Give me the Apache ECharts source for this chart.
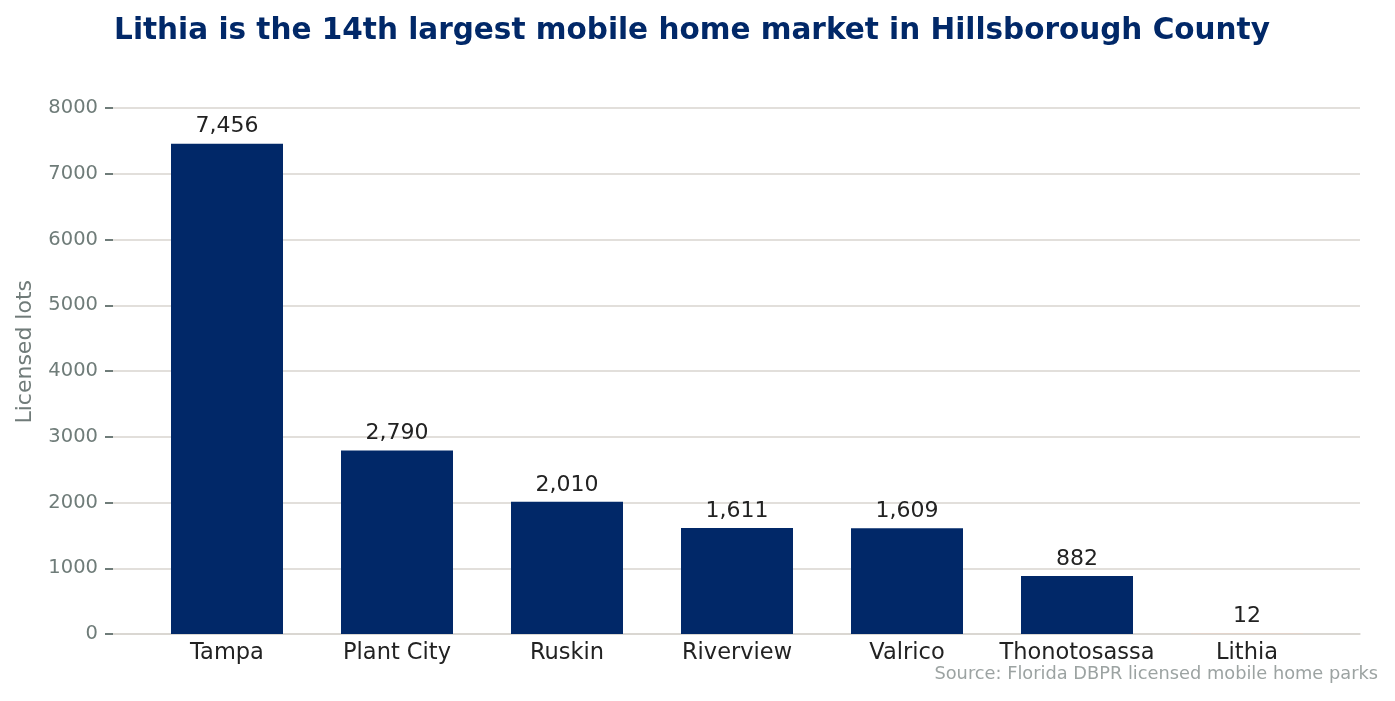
<!DOCTYPE html>
<html>
<head>
<meta charset="utf-8">
<script src="https://cdn.jsdelivr.net/npm/echarts@6/dist/echarts.min.js"></script>
<style>
  html, body { margin: 0; padding: 0; background: #fff; }
  #chart { width: 1395px; height: 701px; }
</style>
</head>
<body>
<div id="chart"></div>
<script>
// data
const cities = ['Tampa', 'Plant City', 'Ruskin', 'Riverview', 'Valrico', 'Thonotosassa', 'Lithia']
const lots = [7456, 2790, 2010, 1611, 1609, 882, 12]
const highlight = 'Lithia'

const NAVY = '#012868'
const FONT = 'DejaVu Sans'

const chart = echarts.init(document.getElementById('chart'))

const barData = lots.map((v, i) => ({
  value: v,
  itemStyle: { color: cities[i] === highlight ? '#e6d3c8' : NAVY }
}))

chart.setOption({
  animation: false,
  textStyle: { fontFamily: FONT },
  title: {
    text: 'Lithia is the 14th largest mobile home market in Hillsborough County',
    left: 687,
    textAlign: 'center',
    top: 11,
    textStyle: { color: NAVY, fontSize: 29.5, fontWeight: 'bold', fontFamily: FONT }
  },
  graphic: [
    {
      type: 'text',
      left: 14, top: 280,
      rotation: Math.PI / 2,
      style: { text: 'Licensed lots', fill: '#707b79', fontSize: 22, fontFamily: FONT }
    },
    {
      type: 'text',
      right: 17, top: 665,
      style: { text: 'Source: Florida DBPR licensed mobile home parks', fill: '#9ca3a2', fontSize: 17.8, fontFamily: FONT }
    }
  ],
  grid: [
    // axes frame: gridlines, ticks and bottom line
    { left: 113, right: 35, top: 108, bottom: 67 },
    // bars
    { left: 142, right: 63, top: 108, bottom: 67 }
  ],
  xAxis: [
    {
      gridIndex: 0, type: 'category', data: cities,
      axisLine: { lineStyle: { color: '#d8d5cf', width: 1.5 } },
      axisTick: { show: false }, axisLabel: { show: false }, splitLine: { show: false }
    },
    {
      gridIndex: 1, type: 'category', data: cities,
      axisLine: { show: false }, axisTick: { show: false },
      axisLabel: { color: '#222', fontSize: 22.5, margin: 8, interval: 0, fontFamily: FONT }
    }
  ],
  yAxis: [
    {
      gridIndex: 0, type: 'value', min: 0, max: 8000, interval: 1000,
      axisLine: { show: false },
      axisTick: { show: true, length: 8, lineStyle: { color: '#6f7c79', width: 2 } },
      axisLabel: { color: '#6f7c79', fontSize: 19.5, margin: 15, fontFamily: FONT, formatter: v => String(v) },
      splitLine: { lineStyle: { color: '#d8d5cf', width: 1.5 } }
    },
    {
      gridIndex: 1, type: 'value', min: 0, max: 8000, interval: 1000,
      axisLine: { show: false }, axisTick: { show: false },
      axisLabel: { show: false }, splitLine: { show: false }
    }
  ],
  series: [
    {
      type: 'bar',
      xAxisIndex: 1, yAxisIndex: 1,
      data: barData,
      barWidth: 112,
      label: {
        show: true, position: 'top', distance: 6,
        color: '#222', fontSize: 22, fontFamily: FONT,
        formatter: p => p.value.toLocaleString('en-US')
      }
    }
  ]
})
</script>
</body>
</html>
